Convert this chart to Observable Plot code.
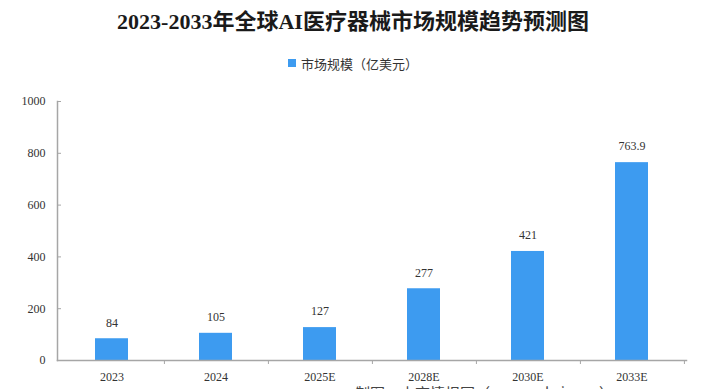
<!DOCTYPE html>
<html><head><meta charset="utf-8">
<script src="https://cdn.jsdelivr.net/npm/d3@7"></script>
<script src="https://cdn.jsdelivr.net/npm/@observablehq/plot@0.6"></script>
<style>
html,body{margin:0;padding:0;background:#fff;overflow:hidden;width:706px;height:389px;}
#title{height:44px;line-height:44px;text-align:center;font-family:"Liberation Serif","Noto Sans CJK SC",serif;font-weight:bold;font-size:22px;color:#1a1a1a;}
#legend{height:38px;display:flex;align-items:center;justify-content:center;font-family:"Noto Sans CJK SC",sans-serif;font-size:13px;color:#333;}
#legend span.sw{display:inline-block;width:8px;height:8px;background:#3d9bf0;margin-right:5px;}
#caption{font-family:"Noto Sans CJK SC",sans-serif;font-size:15px;line-height:15px;color:#444;padding-left:355px;margin-top:-7px;}
</style></head>
<body>
<div id="title">2023-2033年全球AI医疗器械市场规模趋势预测图</div>
<div id="legend"><span class="sw"></span><span>市场规模（亿美元）</span></div>
<div id="chart"></div>
<div id="caption">制图：中商情报网（www.askci.com）</div>
<script>
const categories = ["2023","2024","2025E","2028E","2030E","2033E"];
const values = [84,105,127,277,421,763.9];
const labels = ["84","105","127","277","421","763.9"];
const yTicks = [0,200,400,600,800,1000];

const data = categories.map((c,i)=>({cat:c, value:values[i], label:labels[i]}));
const W = 706, ML = 57, MR = 20;
const step = (W - ML - MR) / categories.length;
const font = "'Liberation Serif','Noto Sans CJK SC',serif";

const chart = Plot.plot({
  width: W,
  height: 310,
  marginLeft: ML,
  marginRight: MR,
  marginTop: 19,
  marginBottom: 32,
  style: {fontFamily: font, fontSize: "12px", color: "#333", background: "#fff", display: "block"},
  x: {domain: categories, paddingInner: 0.685, paddingOuter: 0.3425, label: null},
  y: {domain: [0,1000], label: null},
  marks: [
    Plot.barY(data, {x: "cat", y: "value", fill: "#3d9bf0"}),
    Plot.text(data, {x: "cat", y: "value", text: "label", dy: -16, fill: "#333", fontSize: 12, fontFamily: font}),
    Plot.frame({anchor: "left", stroke: "#a6a6a6", strokeWidth: 1.5}),
    Plot.frame({anchor: "bottom", stroke: "#a6a6a6", strokeWidth: 1.5}),
    Plot.ruleX(categories, {x: d=>d, y1: 0, y2: 0, insetBottom: -4, dx: step/2, stroke: "#a6a6a6"}),
    Plot.axisY({ticks: yTicks, tickSize: -4, tickPadding: 16, stroke: "#a6a6a6", tickFormat: d=>String(d), fill: "#333"}),
    Plot.axisX({tickSize: 0, tickPadding: 12, fill: "#333"})
  ]
});
document.getElementById("chart").appendChild(chart);
</script>
</body></html>
